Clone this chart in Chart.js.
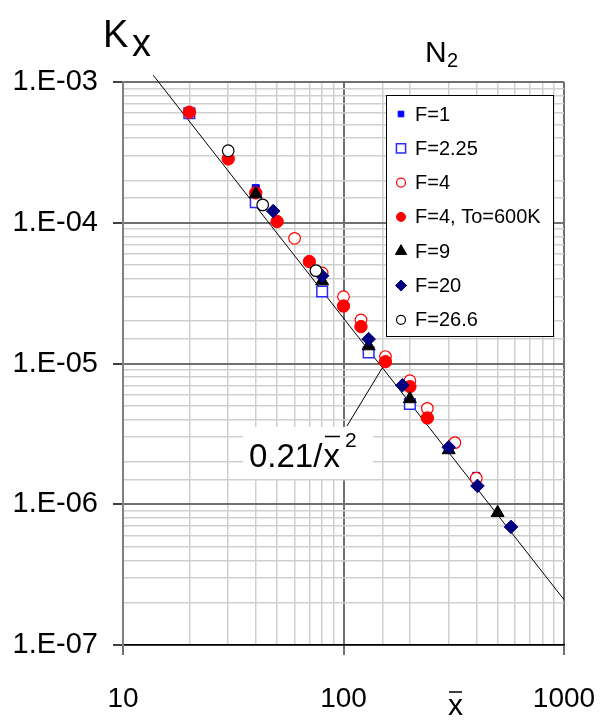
<!DOCTYPE html>
<html>
<head>
<meta charset="utf-8">
<script src="https://cdn.jsdelivr.net/npm/chart.js@4/dist/chart.umd.min.js"></script>
<style>
html,body{margin:0;padding:0;background:#fff;}
#wrap{width:600px;height:720px;position:relative;}
</style>
</head>
<body>
<div id="wrap"><canvas id="c" width="600" height="720"></canvas></div>
<script>
// ---- data ----
const seriesLabels = ['F=1', 'F=2.25', 'F=4', 'F=4, To=600K', 'F=9', 'F=20', 'F=26.6'];
const xF1 = [20, 40, 100, 400];
const yF1 = [6.1e-4, 1.76e-4, 2.5e-5, 1.59e-6];
const xF225 = [20, 40, 80, 130, 200];
const yF225 = [6.0e-4, 1.4e-4, 3.25e-5, 1.2e-5, 5.15e-6];
const xF4 = [60, 80, 100, 120, 155, 200, 240, 320, 400];
const yF4 = [7.75e-5, 4.4e-5, 2.98e-5, 2.04e-5, 1.12e-5, 7.55e-6, 4.8e-6, 2.74e-6, 1.53e-6];
const xF4T = [20, 30, 40, 50, 70, 100, 120, 155, 200, 240];
const yF4T = [6.1e-4, 2.84e-4, 1.63e-4, 1.02e-4, 5.3e-5, 2.56e-5, 1.83e-5, 1.03e-5, 6.84e-6, 4.1e-6];
const xF9 = [40, 80, 130, 200, 300, 500];
const yF9 = [1.6e-4, 3.85e-5, 1.33e-5, 5.6e-6, 2.43e-6, 8.7e-7];
const xF20 = [48, 80, 130, 185, 300, 405, 575];
const yF20 = [1.21e-4, 4.2e-5, 1.49e-5, 7.0e-6, 2.54e-6, 1.35e-6, 6.9e-7];
const xF266 = [30, 43, 75];
const yF266 = [3.25e-4, 1.34e-4, 4.57e-5];
// fit line 0.21/x^2 endpoints
const fitX = [13.7, 1000];
const fitY = [1.119e-3, 2.1e-7];
// anchor of the formula leader on the fit line
const anchorXY = [150, 9.33e-6];
const xTickLabels = ['10', '100', '1000'];
const yTickLabels = ['1.E-07', '1.E-06', '1.E-05', '1.E-04', '1.E-03'];

const FONT = '"Liberation Sans", Arial, sans-serif';
const pts = (xs, ys) => xs.map((x, i) => ({x: x, y: ys[i]}));
const isMajor = v => { const e = Math.log10(v); return Math.abs(e - Math.round(e)) < 1e-6; };

const styles = [
  {pointStyle:'rect', radius:5, bg:'#0000ff', bc:'#0000ff', bw:1, lr:4},
  {pointStyle:'rect', radius:7.5, bg:'#ffffff', bc:'#2a2aff', bw:1.5, lr:6.5},
  {pointStyle:'circle', radius:5.8, bg:'#ffffff', bc:'#ff0000', bw:1.2, lr:4.5},
  {pointStyle:'circle', radius:6.2, bg:'#ff0000', bc:'#ff0000', bw:1, lr:4.5},
  {pointStyle:'triangle', radius:7.5, bg:'#000000', bc:'#000000', bw:1, lr:6.5},
  {pointStyle:'rectRot', radius:6.8, bg:'#000080', bc:'#000080', bw:1, lr:5.5},
  {pointStyle:'circle', radius:5.8, bg:'#ffffff', bc:'#000000', bw:1.2, lr:4.5}
];
const seriesData = [pts(xF1,yF1), pts(xF225,yF225), pts(xF4,yF4), pts(xF4T,yF4T), pts(xF9,yF9), pts(xF20,yF20), pts(xF266,yF266)];

const datasets = [{
  type:'scatter', label:'fit', data: pts(fitX, fitY), showLine:true, borderColor:'#000', borderWidth:1,
  pointRadius:0, clip:false, order:20
}];
seriesData.forEach((d, i) => {
  const s = styles[i];
  datasets.push({
    type:'scatter', label: seriesLabels[i], data: d, pointStyle: s.pointStyle,
    pointRadius: s.radius, pointHoverRadius: s.radius, backgroundColor: s.bg, borderColor: s.bc,
    borderWidth: s.bw, pointBorderWidth: s.bw, order: 10 - i, clip:false
  });
});

function drawMarker(ctx, style, r, x, y, bg, bc, bw) {
  ctx.save();
  ctx.fillStyle = bg; ctx.strokeStyle = bc; ctx.lineWidth = bw;
  ctx.beginPath();
  if (style === 'rect') {
    const s = r * Math.SQRT1_2; ctx.rect(x - s, y - s, 2*s, 2*s);
  } else if (style === 'circle') {
    ctx.arc(x, y, r, 0, Math.PI*2);
  } else if (style === 'triangle') {
    for (let k = 0; k < 3; k++) {
      const a = k * 2*Math.PI/3;
      const px = x + Math.sin(a)*r, py = y - Math.cos(a)*r;
      if (k === 0) ctx.moveTo(px, py); else ctx.lineTo(px, py);
    }
    ctx.closePath();
  } else if (style === 'rectRot') {
    ctx.moveTo(x, y - r); ctx.lineTo(x + r, y); ctx.lineTo(x, y + r); ctx.lineTo(x - r, y); ctx.closePath();
  }
  ctx.fill(); ctx.stroke();
  ctx.restore();
}

const decor = {
  id:'decor',
  afterDatasetsDraw(chart) {
    const ctx = chart.ctx;
    const xs = chart.scales.x, ys = chart.scales.y;
    ctx.save();
    // formula leader line
    const ax = xs.getPixelForValue(anchorXY[0]), ay = ys.getPixelForValue(anchorXY[1]);
    ctx.strokeStyle = '#000'; ctx.lineWidth = 1;
    ctx.beginPath(); ctx.moveTo(347, 426); ctx.lineTo(ax, ay); ctx.stroke();
    // formula box
    ctx.fillStyle = '#fff';
    ctx.fillRect(243, 427, 130, 52);
    ctx.fillStyle = '#000';
    ctx.font = '33px ' + FONT;
    ctx.textBaseline = 'alphabetic'; ctx.textAlign = 'left';
    const t1 = '0.21/';
    ctx.fillText(t1, 249, 467);
    const w1 = ctx.measureText(t1).width;
    const xx = 249 + w1 + 1;
    ctx.fillText('x', xx, 467);
    const wx = ctx.measureText('x').width;
    ctx.lineWidth = 1.5;
    ctx.beginPath(); ctx.moveTo(xx + 1.5, 436.5); ctx.lineTo(xx + wx, 436.5); ctx.stroke();
    ctx.font = '21px ' + FONT;
    ctx.fillText('2', xx + wx + 5, 447);

    // legend
    const lx = 386, ly = 95, lw = 167, lh = 241;
    ctx.fillStyle = '#fff'; ctx.fillRect(lx, ly, lw, lh);
    ctx.strokeStyle = '#000'; ctx.lineWidth = 1;
    ctx.strokeRect(lx + 0.5, ly + 0.5, lw, lh);
    ctx.font = '20px ' + FONT; ctx.textBaseline = 'middle';
    seriesLabels.forEach((lab, i) => {
      const yy = 114 + i * 34.3;
      const s = styles[i];
      drawMarker(ctx, s.pointStyle, s.lr, 401, yy, s.bg, s.bc, s.bw);
      ctx.fillStyle = '#000';
      ctx.fillText(lab, 415, yy + 1);
    });

    // titles
    ctx.textBaseline = 'alphabetic';
    ctx.font = '38px ' + FONT;
    ctx.fillText('K', 103, 47);
    ctx.fillText('x', 132, 56);
    ctx.font = '30px ' + FONT;
    ctx.fillText('N', 425, 62);
    ctx.font = '20px ' + FONT;
    ctx.fillText('2', 447, 67);
    // x axis title: x with overline
    ctx.font = '30px ' + FONT;
    ctx.fillText('x', 448, 715);
    const wxx = ctx.measureText('x').width;
    ctx.lineWidth = 1.5;
    ctx.beginPath(); ctx.moveTo(449, 692); ctx.lineTo(448 + wxx - 1, 692); ctx.stroke();
    ctx.restore();
  }
};

new Chart(document.getElementById('c'), {
  data: { datasets: datasets },
  options: {
    responsive:false, animation:false,
    layout: { padding: { top:82, right:36, left:0, bottom:0 } },
    plugins: { legend:{display:false}, tooltip:{enabled:false} },
    scales: {
      x: {
        type:'logarithmic', position:'bottom', min:10, max:1000,
        border: { display:true, color:'#000', width:1.5 },
        grid: {
          color: c => (c.tick && isMajor(c.tick.value)) ? '#707070' : '#cfcfcf',
          lineWidth: c => (c.tick && isMajor(c.tick.value)) ? 2 : 1.5,
          tickColor: c => (c.tick && isMajor(c.tick.value)) ? '#707070' : 'rgba(0,0,0,0)',
          tickLength: 10, tickWidth: 2
        },
        ticks: {
          autoSkip:false, maxRotation:0, padding:27, color:'#000',
          font: { size:28, family: FONT },
          callback: v => isMajor(v) ? xTickLabels[Math.round(Math.log10(v)) - 1] : ''
        },
        afterFit: s => { s.height = 75; s.paddingLeft = 0; s.paddingRight = 0; }
      },
      y: {
        type:'logarithmic', position:'left', min:1e-7, max:1e-3,
        border: { display:true, color:'#808080', width:2 },
        grid: {
          color: c => (c.tick && isMajor(c.tick.value)) ? '#707070' : '#cfcfcf',
          lineWidth: c => (c.tick && isMajor(c.tick.value)) ? 2 : 1.5,
          tickColor: c => (c.tick && isMajor(c.tick.value)) ? '#000' : 'rgba(0,0,0,0)',
          tickLength: 10, tickWidth: 1.5
        },
        ticks: {
          autoSkip:false, padding:15, color:'#000',
          font: { size:29, family: FONT },
          callback: v => isMajor(v) ? yTickLabels[Math.round(Math.log10(v)) + 7] : ''
        },
        afterFit: s => { s.width = 123; s.paddingTop = 0; s.paddingBottom = 0; }
      }
    }
  },
  plugins: [decor]
});
</script>
</body>
</html>
